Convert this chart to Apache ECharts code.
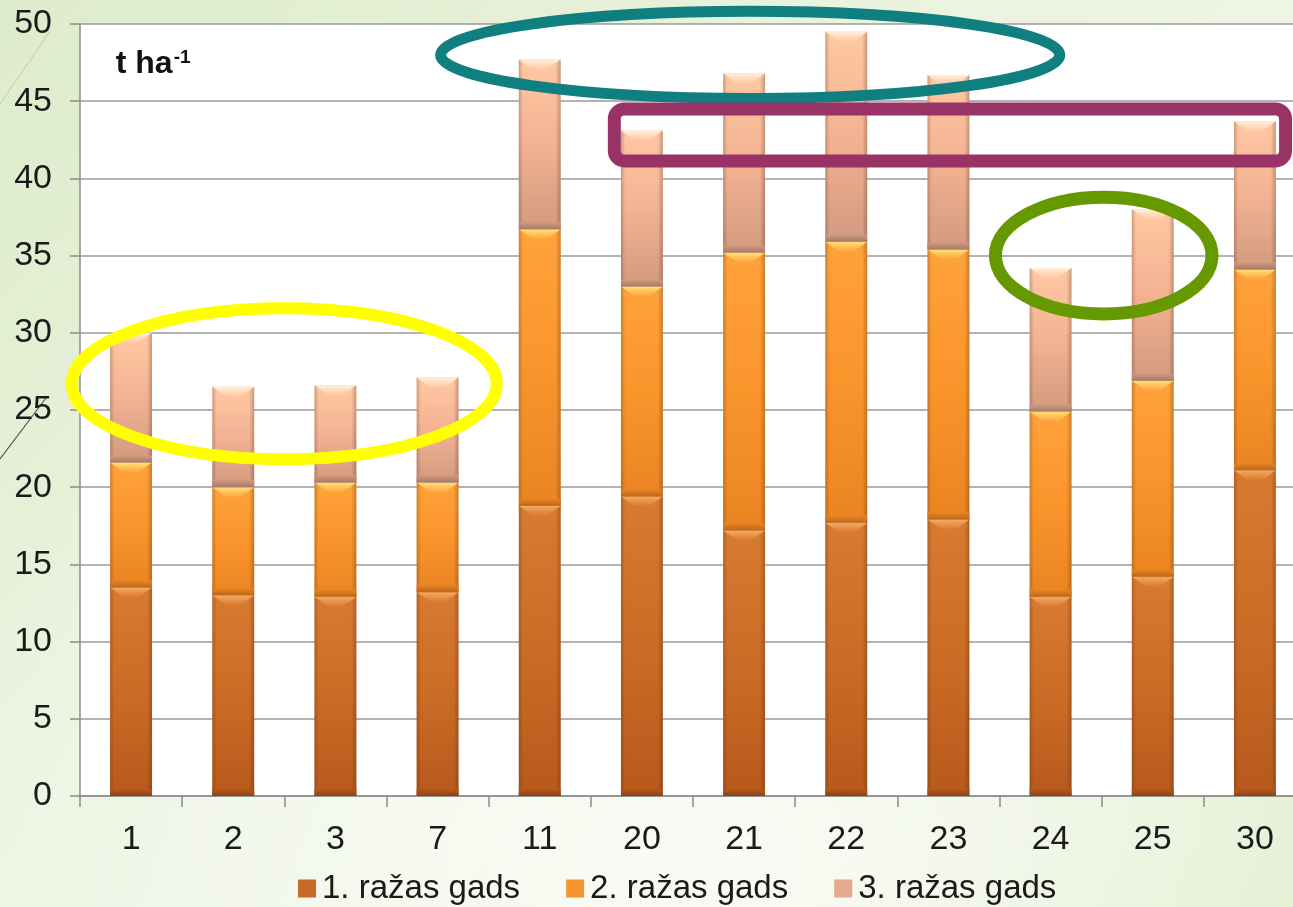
<!DOCTYPE html>
<html>
<head>
<meta charset="utf-8">
<script src="https://cdn.jsdelivr.net/npm/echarts@6/dist/echarts.min.js"></script>
<style>
  html, body { margin: 0; padding: 0; width: 1293px; height: 907px; overflow: hidden; }
  body {
    background:
      radial-gradient(ellipse 70% 60% at 55% 95%, rgba(250,252,246,0.95) 0%, rgba(250,252,246,0) 100%),
      linear-gradient(135deg, #DEEBCB 0%, #EAF3DE 40%, #EEF5E4 60%, #DCEAC4 100%);
  }
  #chart { width: 1308px; height: 907px; }
</style>
</head>
<body>
<div id="chart"></div>
<script>
// Yield by harvest year (t ha-1) for each clone
const categories = ['1', '2', '3', '7', '11', '20', '21', '22', '23', '24', '25', '30'];
const year1 = [13.5, 13.0, 12.9, 13.2, 18.8, 19.4, 17.2, 17.7, 17.9, 12.9, 14.2, 21.1];
const year2 = [8.1, 7.0, 7.4, 7.1, 17.9, 13.6, 18.0, 18.2, 17.5, 12.0, 12.7, 13.0];
const year3 = [8.4, 6.5, 6.3, 6.8, 11.0, 10.1, 11.6, 13.6, 11.3, 9.3, 11.1, 9.6];
const seriesNames = ['1. ražas gads', '2. ražas gads', '3. ražas gads'];

// Bevelled colour sets for each stacked segment
const palettes = [
  { hi: '#F4AA62', top: '#D87A30', mid: '#CB6C26', bot: '#B7591C', band: '#8A4414', legend: '#C8692A' },
  { hi: '#FFE07A', top: '#FFA23A', mid: '#FA952C', bot: '#E98422', band: '#B9681C', legend: '#F7952F' },
  { hi: '#FFEEDC', top: '#FFC8A2', mid: '#F3B292', bot: '#D29A80', band: '#A57A66', legend: '#E4A98E' }
];

// Stack the three years into [index, base, top] segments
function stacked(layers) {
  const out = layers.map(() => []);
  categories.forEach((c, i) => {
    let base = 0;
    layers.forEach((arr, k) => {
      out[k].push([i, base, base + arr[i]]);
      base += arr[i];
    });
  });
  return out;
}
const segs = stacked([year1, year2, year3]);

function bevelBar(pal) {
  return function (params, api) {
    const idx = api.value(0);
    const p0 = api.coord([idx, api.value(1)]);
    const p1 = api.coord([idx, api.value(2)]);
    const w = api.size([1, 0])[0] * 0.41;
    const x = p0[0] - w / 2;
    const yT = p1[1];
    const h = p0[1] - p1[1];
    const bev = Math.min(10, h / 3);
    return {
      type: 'group',
      children: [
        {
          type: 'rect',
          shape: { x: x, y: yT, width: w, height: h },
          style: {
            fill: new echarts.graphic.LinearGradient(0, 0, 0, 1, [
              { offset: 0, color: pal.top },
              { offset: 0.5, color: pal.mid },
              { offset: 1, color: pal.bot }
            ]),
            shadowBlur: 6,
            shadowOffsetX: 1,
            shadowOffsetY: 1,
            shadowColor: 'rgba(0,0,0,0.4)'
          }
        },
        {
          type: 'rect',
          shape: { x: x, y: yT, width: w, height: h },
          style: {
            fill: new echarts.graphic.LinearGradient(0, 0, 1, 0, [
              { offset: 0, color: 'rgba(60,30,10,0.25)' },
              { offset: 0.1, color: 'rgba(60,30,10,0)' },
              { offset: 0.88, color: 'rgba(60,30,10,0)' },
              { offset: 1, color: 'rgba(60,30,10,0.28)' }
            ])
          }
        },
        {
          type: 'rect',
          shape: { x: x, y: p0[1] - bev * 0.7, width: w, height: bev * 0.7 },
          style: {
            fill: new echarts.graphic.LinearGradient(0, 0, 0, 1, [
              { offset: 0, color: pal.bot },
              { offset: 1, color: pal.band }
            ])
          }
        },
        {
          type: 'polygon',
          shape: { points: [[x, yT], [x + w, yT], [x + w - bev * 1.4, yT + bev], [x + bev * 1.4, yT + bev]] },
          style: {
            fill: new echarts.graphic.LinearGradient(0, 0, 0, 1, [
              { offset: 0, color: pal.hi },
              { offset: 1, color: pal.top }
            ])
          }
        }
      ]
    };
  };
}

const chart = echarts.init(document.getElementById('chart'), null, { renderer: 'canvas' });
const font = 'Arial, "Liberation Sans", sans-serif';

chart.setOption({
  animation: false,
  textStyle: { fontFamily: font },
  grid: {
    left: 80, top: 24, width: 1226, height: 772,
    show: true, backgroundColor: '#FFFFFF', borderWidth: 0
  },
  legend: {
    bottom: -3,
    left: 293,
    itemWidth: 18,
    itemHeight: 18,
    itemGap: 46,
    icon: 'rect',
    textStyle: { fontSize: 33, color: '#1A1A1A', fontFamily: font, padding: [0, 0, 0, 1] },
    data: seriesNames
  },
  xAxis: {
    type: 'category',
    data: categories,
    boundaryGap: true,
    axisLine: { lineStyle: { color: '#8C8C8C', width: 1.5 } },
    axisTick: { show: true, length: 11, lineStyle: { color: '#8C8C8C', width: 1.5 } },
    axisLabel: { fontSize: 34, color: '#1A1A1A', margin: 27 }
  },
  yAxis: {
    type: 'value',
    min: 0, max: 50, interval: 5,
    axisLine: { show: true, lineStyle: { color: '#8C8C8C', width: 1.5 } },
    axisTick: { show: true, length: 10, lineStyle: { color: '#8C8C8C', width: 1.5 } },
    splitLine: { lineStyle: { color: '#9A9A9A', width: 1.5 } },
    axisLabel: { fontSize: 34, color: '#1A1A1A', margin: 28 }
  },
  series: segs.map((data, k) => ({
    type: 'custom',
    name: seriesNames[k],
    renderItem: bevelBar(palettes[k]),
    itemStyle: { color: palettes[k].legend },
    encode: { x: 0, y: [1, 2] },
    data: data,
    z: 2
  }))
});

// Unit label and highlight outlines placed in data space
function pt(catPos, val) {
  const a = chart.convertToPixel({ xAxisIndex: 0, yAxisIndex: 0 }, [0, val]);
  const b = chart.convertToPixel({ xAxisIndex: 0, yAxisIndex: 0 }, [1, val]);
  return [a[0] + (b[0] - a[0]) * catPos, a[1]];
}
function span(catDelta, valDelta) {
  const o = pt(0, 0), d = pt(catDelta, valDelta);
  return [Math.abs(d[0] - o[0]), Math.abs(d[1] - o[1])];
}

const outlines = [
  { kind: 'ellipse', cat: 1.5, val: 26.7, dCat: 2.08, dVal: 4.89, color: '#FFFF00', width: 12 },
  { kind: 'ellipse', cat: 6.06, val: 48.0, dCat: 3.03, dVal: 2.82, color: '#0F7F7F', width: 11 },
  { kind: 'ellipse', cat: 9.52, val: 35.0, dCat: 1.06, dVal: 3.78, color: '#669900', width: 13 },
  { kind: 'rect', cat: 4.73, val: 44.5, dCat: 6.57, dVal: 3.37, color: '#993366', width: 13 }
];

const graphics = outlines.map(o => {
  const c = pt(o.cat, o.val);
  const s = span(o.dCat, o.dVal);
  if (o.kind === 'ellipse') {
    return {
      type: 'ellipse', z: 100,
      shape: { cx: c[0], cy: c[1], rx: s[0], ry: s[1] },
      style: { fill: null, stroke: o.color, lineWidth: o.width }
    };
  }
  return {
    type: 'rect', z: 100,
    shape: { x: c[0], y: c[1], width: s[0], height: s[1], r: 10 },
    style: { fill: null, stroke: o.color, lineWidth: o.width }
  };
});

const unitPos = pt(-0.15, 48.45);
graphics.push({
  type: 'text', z: 110,
  x: unitPos[0], y: unitPos[1],
  style: {
    text: '{m|t ha}{s|-1}',
    fontFamily: font,
    rich: {
      m: { fontSize: 32, fontWeight: 'bold', fill: '#111111', fontFamily: font },
      s: { fontSize: 19, fontWeight: 'bold', fill: '#111111', fontFamily: font, verticalAlign: 'top', padding: [0, 0, 14, 1] }
    }
  }
});

// Thin decorative slide strokes at the left edge
graphics.push({
  type: 'line', z: 0,
  shape: { x1: 0, y1: 104, x2: 50, y2: 31 },
  style: { stroke: '#BFCBB0', lineWidth: 1 }
});
graphics.push({
  type: 'line', z: 0,
  shape: { x1: 0, y1: 459, x2: 46, y2: 398 },
  style: { stroke: '#3F6150', lineWidth: 1.2 }
});

chart.setOption({ graphic: graphics });
</script>
</body>
</html>
